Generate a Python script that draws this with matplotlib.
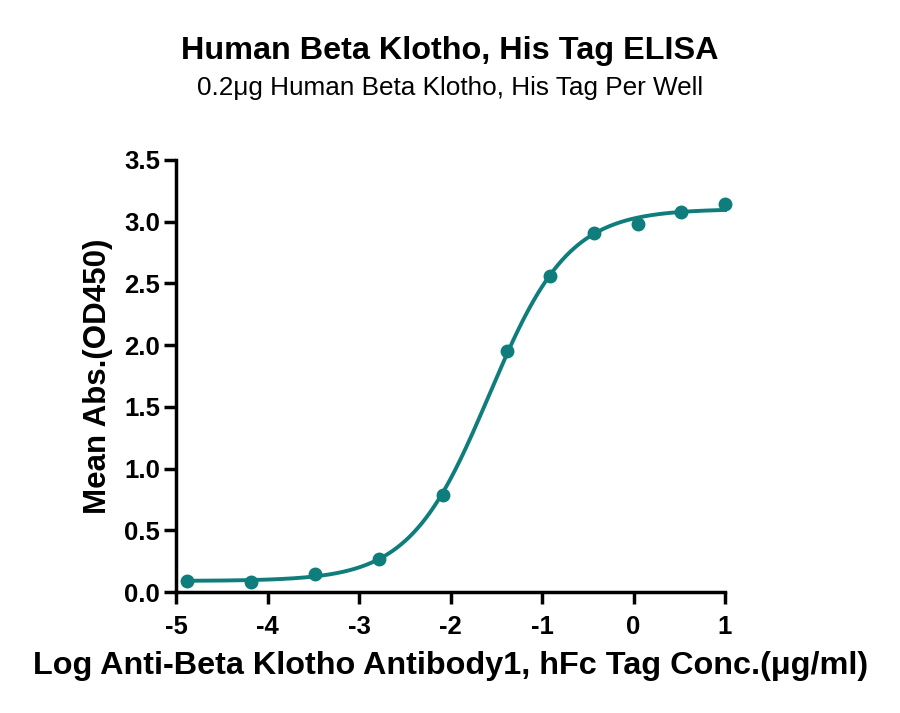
import matplotlib
matplotlib.use('Agg')
import matplotlib.pyplot as plt
import numpy as np

plt.rcParams['font.family'] = ['Liberation Sans', 'DejaVu Sans']
plt.rcParams['axes.unicode_minus'] = False

# Data (log concentration, OD450)
log_conc = [-4.880, -4.181, -3.482, -2.783, -2.084, -1.385,
            -0.908, -0.431, 0.046, 0.523, 1.000]
od450 = [0.089, 0.085, 0.146, 0.270, 0.786, 1.95,
         2.56, 2.91, 2.98, 3.08, 3.14]

TITLE = 'Human Beta Klotho, His Tag ELISA'
SUBTITLE = '0.2\u03bcg Human Beta Klotho, His Tag Per Well'
XLABEL = 'Log Anti-Beta Klotho Antibody1, hFc Tag Conc.(\u03bcg/ml)'
YLABEL = 'Mean Abs.(OD450)'
COLOR = '#0f7d7c'


def four_pl(x, bottom, top, logec50, hill):
    return bottom + (top - bottom) / (1 + 10 ** ((logec50 - x) * hill))


# Simple Gauss-Newton fit of a 4PL curve
x = np.array(log_conc)
y = np.array(od450)
p = np.array([0.08, 3.1, -1.6, 1.0])
for _ in range(200):
    r = y - four_pl(x, *p)
    J = np.empty((len(x), 4))
    eps = 1e-6
    for k in range(4):
        dp = np.zeros(4)
        dp[k] = eps
        J[:, k] = (four_pl(x, *(p + dp)) - four_pl(x, *p)) / eps
    step, *_ = np.linalg.lstsq(J, r, rcond=None)
    p = p + 0.5 * step

xs = np.linspace(min(log_conc), max(log_conc), 400)

fig = plt.figure(figsize=(9, 7.13), dpi=100)
ax = fig.add_axes([0.1956, 0.1697, 0.61, 0.6059])
ax.plot(xs, four_pl(xs, *p), color=COLOR, lw=2.8, clip_on=False)
ax.plot(log_conc, od450, 'o', color=COLOR, ms=9, clip_on=False)

ax.set_xlim(-5, 1)
ax.set_ylim(0, 3.5)
ax.set_xticks(range(-5, 2))
ax.set_yticks(np.arange(0, 3.51, 0.5))
ax.set_yticklabels([f'{v:.1f}' for v in np.arange(0, 3.51, 0.5)])

for side in ['top', 'right']:
    ax.spines[side].set_visible(False)
for side in ['left', 'bottom']:
    ax.spines[side].set_linewidth(2.5)
ax.tick_params(width=2.5, length=8.5, labelsize=18.5)
ax.tick_params(axis='y', pad=3)
ax.tick_params(axis='x', pad=8)
for lab in ax.get_xticklabels() + ax.get_yticklabels():
    lab.set_fontweight('bold')

ax.set_xlabel(XLABEL, fontsize=23.3, fontweight='bold', labelpad=9)
ax.set_ylabel(YLABEL, fontsize=22.5, fontweight='bold', labelpad=8)

fig.text(0.5, 0.929, TITLE, ha='center', va='center', fontsize=23.3,
         fontweight='bold')
fig.text(0.5, 0.877, SUBTITLE, ha='center', va='center', fontsize=18.8)

fig.savefig('out.png', dpi=100)
